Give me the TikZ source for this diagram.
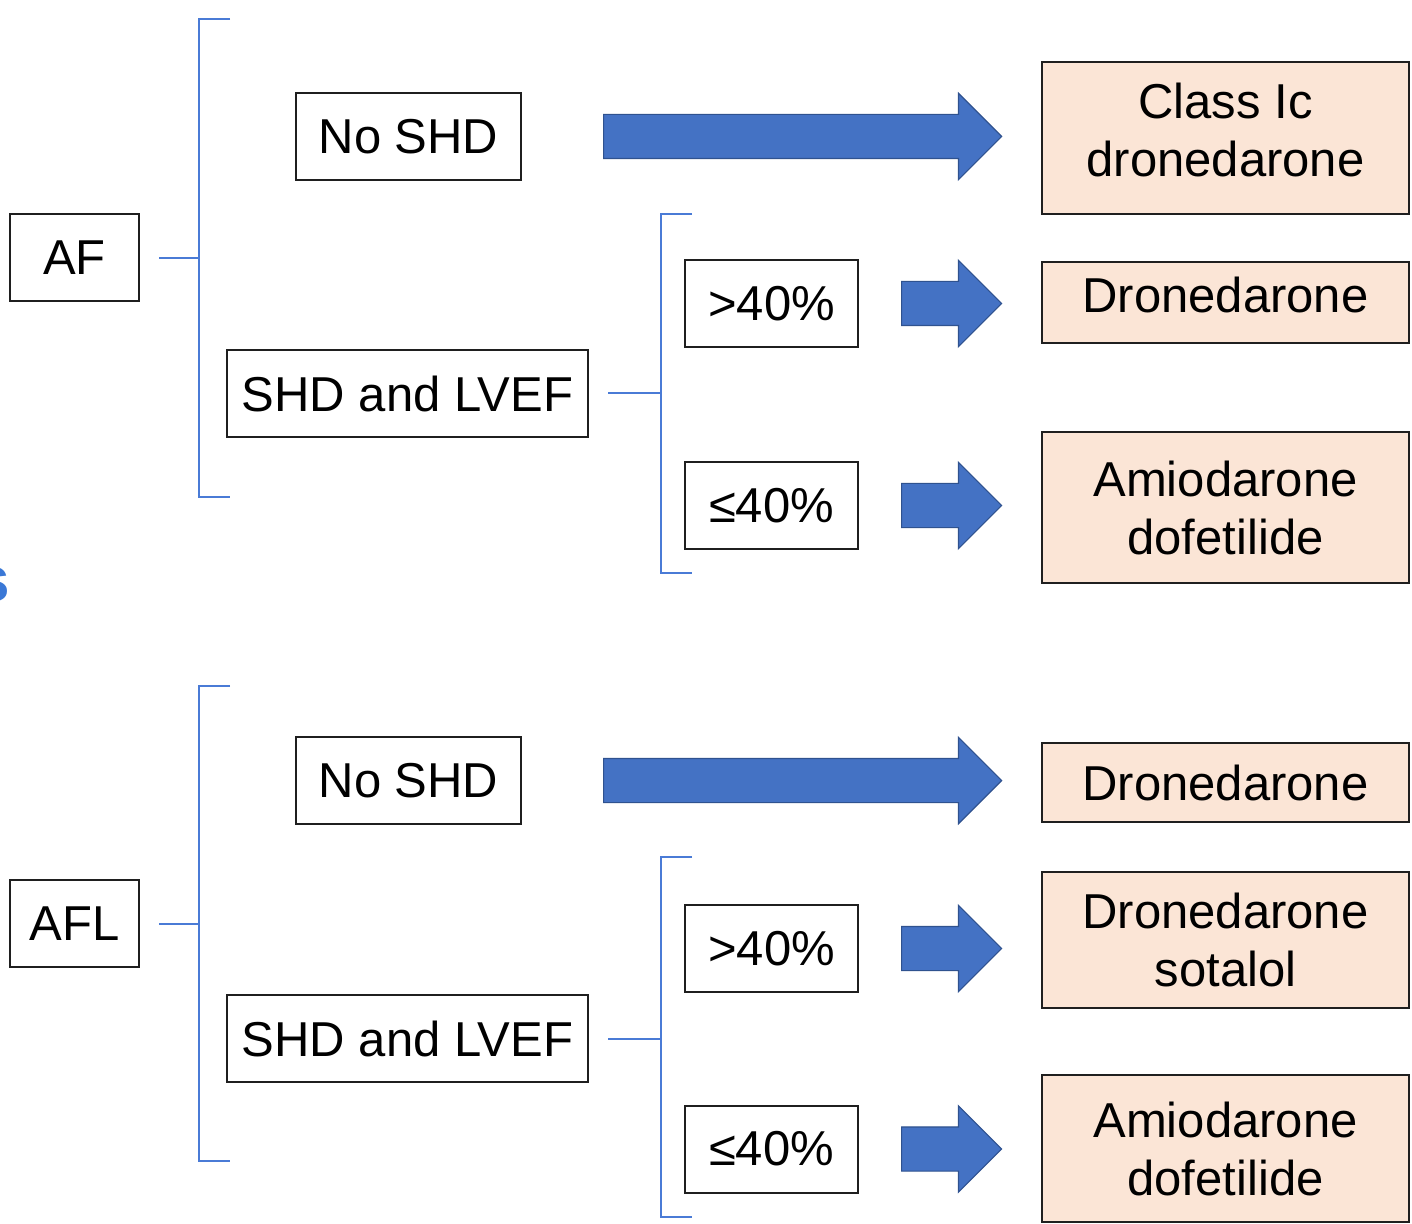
\documentclass[tikz,border=0pt]{standalone}
\usepackage{fontspec}
\setmainfont{Liberation Sans}
\usepackage{xcolor}
\definecolor{arrowblue}{HTML}{4472C4}
\definecolor{arrowedge}{HTML}{2F528F}
\definecolor{lineblue}{HTML}{4A7BD6}
\definecolor{titleblue}{HTML}{3A78D6}
\definecolor{rxfill}{HTML}{FBE5D6}
\definecolor{boxedge}{HTML}{1F1F1F}
\usepackage{tikz}
\usetikzlibrary{arrows.meta,positioning,calc,shapes.arrows}
\tikzset{
  condbox/.style={rectangle, draw=boxedge, line width=1pt, fill=white,
    minimum height=43.5pt, inner sep=0pt, align=center,
    font=\fontsize{24.5}{29}\selectfont},
  rxbox/.style={rectangle, draw=boxedge, line width=1pt, fill=rxfill,
    minimum width=183.5pt, inner sep=0pt, align=center,
    font=\fontsize{24.5}{29}\selectfont},
  fatarrow/.style={single arrow, draw=arrowedge, line width=0.6pt, fill=arrowblue,
    minimum width=42.5pt, single arrow head extend=10.5pt,
    single arrow head indent=0pt, inner xsep=0pt, inner ysep=10.75pt},
  bline/.style={draw=lineblue, line width=1pt},
}

\begin{document}
\begin{tikzpicture}[x=0.5pt, y=-0.5pt]
  \useasboundingbox (0,0) rectangle (1412,1224);

  % cut-off title letter at the left edge
  \node[font=\fontsize{32}{32}\selectfont\bfseries, text=titleblue, anchor=base east, inner sep=0pt] (cut) at (10,601) {s};

  % AF
  \node[condbox, minimum width=64.5pt] (af) at (74.5,258) {AF};
  \node[condbox, minimum width=112.5pt] (noshdA) at (408.5,136.5) {No SHD};
  \node[condbox, minimum width=180.5pt] (shdA) at (407.5,393.5) {SHD and LVEF};
  \node[condbox, minimum width=86.5pt] (hiA) at (771.5,303.5) {>40\%};
  \node[condbox, minimum width=86.5pt] (loA) at (771.5,505.5) {≤40\%};
  \node[rxbox, minimum height=76pt, text depth=8pt] (rxA1) at (1225.5,138) {Class Ic\\dronedarone};
  \node[rxbox, minimum height=40.5pt, text depth=8pt] (rxA2) at (1225.5,302.5) {Dronedarone};
  \node[rxbox, minimum height=75.5pt] (rxA3) at (1225.5,507.5) {Amiodarone\\dofetilide};

  \node[fatarrow, minimum height=199pt, right=40.5pt of noshdA] (arA1) {};
  \node[fatarrow, minimum height=50pt, right=21pt of hiA] (arA2) {};
  \node[fatarrow, minimum height=50pt, right=21pt of loA] (arA3) {};

  \coordinate (brA) at (199,19);
  \coordinate (brAb) at (199,497);
  \draw[bline] ([xshift=15.5pt]brA) -- (brA) -- (brAb) -- ([xshift=15.5pt]brAb);
  \draw[bline] ([xshift=9.5pt]af.east) -- (af.east -| brA);
  \coordinate (brC) at (661,214);
  \coordinate (brCb) at (661,573);
  \draw[bline] ([xshift=15.5pt]brC) -- (brC) -- (brCb) -- ([xshift=15.5pt]brCb);
  \draw[bline] ([xshift=9.5pt]shdA.east) -- (shdA.east -| brC);

  % AFL
  \node[condbox, minimum width=64.5pt] (afl) at (74.5,923.5) {AFL};
  \node[condbox, minimum width=112.5pt] (noshdB) at (408.5,780.5) {No SHD};
  \node[condbox, minimum width=180.5pt] (shdB) at (407.5,1038.5) {SHD and LVEF};
  \node[condbox, minimum width=86.5pt] (hiB) at (771.5,948.5) {>40\%};
  \node[condbox, minimum width=86.5pt] (loB) at (771.5,1149) {≤40\%};
  \node[rxbox, minimum height=39.5pt] (rxB1) at (1225.5,782.5) {Dronedarone};
  \node[rxbox, minimum height=68pt] (rxB2) at (1225.5,940) {Dronedarone\\sotalol};
  \node[rxbox, minimum height=73.5pt] (rxB3) at (1225.5,1148.5) {Amiodarone\\dofetilide};

  \node[fatarrow, minimum height=199pt, right=40.5pt of noshdB] (arB1) {};
  \node[fatarrow, minimum height=50pt, right=21pt of hiB] (arB2) {};
  \node[fatarrow, minimum height=50pt, right=21pt of loB] (arB3) {};

  \coordinate (brB) at (199,686);
  \coordinate (brBb) at (199,1161);
  \draw[bline] ([xshift=15.5pt]brB) -- (brB) -- (brBb) -- ([xshift=15.5pt]brBb);
  \draw[bline] ([xshift=9.5pt]afl.east) -- (afl.east -| brB);
  \coordinate (brD) at (661,857);
  \coordinate (brDb) at (661,1217);
  \draw[bline] ([xshift=15.5pt]brD) -- (brD) -- (brDb) -- ([xshift=15.5pt]brDb);
  \draw[bline] ([xshift=9.5pt]shdB.east) -- (shdB.east -| brD);
\end{tikzpicture}
\end{document}
